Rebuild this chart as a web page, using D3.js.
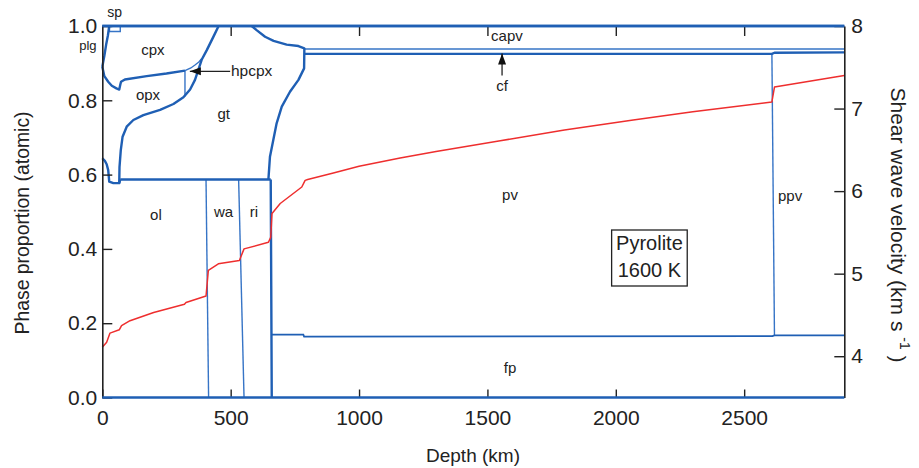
<!DOCTYPE html>
<html>
<head>
<meta charset="utf-8">
<script src="https://cdn.jsdelivr.net/npm/d3@7/dist/d3.min.js"></script>
<style>
  body { margin: 0; background: #fff; }
  svg { display: block; font-family: "Liberation Sans", Arial, sans-serif; }
</style>
</head>
<body>
<svg id="chart" width="919" height="468"></svg>
<script>
// depth (km) vs phase proportion
const spBox = [[28, 1.0], [28, 0.985], [70, 0.985], [70, 1.0]];
const plgCpx = [[27, 1.0], [22, 0.975], [15, 0.95], [8, 0.92], [0, 0.89]];
const cpxOpx = [[0, 0.89], [8, 0.865], [23, 0.85], [37, 0.839], [55, 0.832], [66, 0.829], [70, 0.842], [73, 0.85], [88, 0.856], [173, 0.865], [250, 0.872], [322, 0.88]];
const hpcpxLeft = [[322, 0.88], [322, 0.81]];
const hpcpxTop = [[322, 0.88], [345, 0.887], [361, 0.895], [376, 0.903], [387, 0.912]];
const gtLeft = [[453, 1.0], [432, 0.97], [407, 0.935], [387, 0.909], [374, 0.882], [361, 0.855], [342, 0.829], [316, 0.808], [277, 0.79], [225, 0.774], [160, 0.76], [121, 0.747], [95, 0.729], [79, 0.702], [72, 0.666], [67, 0.62], [66, 0.577]];
const shallowLow = [[0, 0.644], [10, 0.637], [17, 0.628], [23, 0.612], [27, 0.581], [43, 0.577], [66, 0.577], [70, 0.587]];
const olTop = [[70, 0.587], [656, 0.587]];
const gtRight = [[647, 0.587], [653, 0.648], [666, 0.693], [679, 0.738], [699, 0.783], [731, 0.823], [764, 0.855], [786, 0.886], [787, 0.94], [764, 0.946], [718, 0.95], [667, 0.96], [634, 0.971], [601, 0.989], [582, 1.0]];
const capvBase = [[787, 0.938], [2890, 0.938]];
const cfBase = [[787, 0.925], [2608, 0.925], [2618, 0.928], [2890, 0.929]];
const olWa = [[404, 0.587], [414, 0.0]];
const waRi = [[531, 0.587], [552, 0.0]];
const riPv = [[656, 0.587], [658, 0.3], [660, 0.0]];
const fpTop = [[660, 0.169], [783, 0.169], [786, 0.164], [2610, 0.165], [2618, 0.167], [2890, 0.167]];
const pvPpv = [[2608, 0.925], [2618, 0.167]];
const topEdge = [[0, 1.0], [2890, 1.0]];
const bottomEdge = [[0, 0.0], [2890, 0.0]];

// shear wave velocity (km/s)
const vsDepth = [0, 17, 30, 66, 75, 108, 200, 320, 326, 404, 413, 452, 534, 552, 647, 656, 661, 693, 777, 790, 800, 900, 1000, 1160, 1300, 1550, 1800, 2068, 2300, 2608, 2618, 2890];
const vsValue = [4.11, 4.17, 4.28, 4.32, 4.37, 4.43, 4.53, 4.63, 4.65, 4.73, 5.04, 5.12, 5.16, 5.30, 5.38, 5.44, 5.73, 5.85, 6.05, 6.13, 6.14, 6.22, 6.30, 6.40, 6.48, 6.61, 6.74, 6.86, 6.96, 7.08, 7.26, 7.40];

const depthTicks = [0, 500, 1000, 1500, 2000, 2500];
const topTicks = [500, 1000, 1500, 2000, 2500];
const propTicks = [0, 0.2, 0.4, 0.6, 0.8, 1.0];
const vsTicks = [4, 5, 6, 7, 8];

// [label, depth, proportion, size, anchor]
const phaseLabels = [
  ["sp", 48, 1.024, 14, "middle"],
  ["plg", -56, 0.935, 13, "middle"],
  ["cpx", 197, 0.922, 15, "middle"],
  ["opx", 178, 0.801, 15, "middle"],
  ["hpcpx", 501, 0.866, 15.5, "start"],
  ["gt", 473, 0.75, 15, "middle"],
  ["ol", 209, 0.477, 15, "middle"],
  ["wa", 472, 0.487, 15, "middle"],
  ["ri", 591, 0.487, 15, "middle"],
  ["capv", 1576, 0.96, 15, "middle"],
  ["cf", 1557, 0.825, 15, "middle"],
  ["pv", 1588, 0.532, 15, "middle"],
  ["ppv", 2679, 0.529, 15, "middle"],
  ["fp", 1588, 0.066, 15, "middle"]
];

const BLUE = "#1f5fb4";
const BLUE_THIN = "#3674c6";
const RED = "#ee2e2e";

const svg = d3.select("#chart");
const x = d3.scaleLinear().domain([0, 2890]).range([102.3, 844.3]);
const y = d3.scaleLinear().domain([0, 1]).range([397.5, 26]);
const yR = d3.scaleLinear().domain([3.5, 8]).range([397.5, 26]);

const line = d3.line().x(d => x(d[0])).y(d => y(d[1]));

const thick = [plgCpx, cpxOpx, gtLeft, shallowLow, olTop, gtRight, cfBase, riPv, topEdge];
const thin = [spBox, hpcpxLeft, hpcpxTop, capvBase, olWa, waRi, pvPpv];

const g = svg.append("g");

thin.forEach(d => {
  g.append("path").attr("d", line(d))
    .attr("fill", "none").attr("stroke", BLUE_THIN).attr("stroke-width", 1.4);
});
thick.forEach(d => {
  g.append("path").attr("d", line(d))
    .attr("fill", "none").attr("stroke", BLUE).attr("stroke-width", 2.4)
    .attr("stroke-linejoin", "round");
});
g.append("path").attr("d", line(fpTop))
  .attr("fill", "none").attr("stroke", BLUE).attr("stroke-width", 1.8);

// Vs profile
const vsLine = d3.line().x(d => x(d[0])).y(d => yR(d[1]));
g.append("path").attr("d", vsLine(vsDepth.map((d, i) => [d, vsValue[i]])))
  .attr("fill", "none").attr("stroke", RED).attr("stroke-width", 1.5)
  .attr("stroke-linejoin", "round");

// axes
const fontTick = 21;
const axL = svg.append("g").attr("transform", `translate(${x(0)},0)`)
  .call(d3.axisLeft(y).tickValues(propTicks).tickFormat(d3.format(".1f"))
    .tickSizeInner(-10).tickSizeOuter(0).tickPadding(5));
const axR = svg.append("g").attr("transform", `translate(${x(2890)},0)`)
  .call(d3.axisRight(yR).tickValues(vsTicks).tickFormat(d3.format("d"))
    .tickSizeInner(-10).tickSizeOuter(0).tickPadding(7));
const axB = svg.append("g").attr("transform", `translate(0,${y(0)})`)
  .call(d3.axisBottom(x).tickValues(depthTicks).tickFormat(d3.format("d"))
    .tickSizeInner(-8).tickSizeOuter(0).tickPadding(9));
const axT = svg.append("g").attr("transform", `translate(0,${y(1)})`)
  .call(d3.axisTop(x).tickValues(topTicks).tickFormat("")
    .tickSizeInner(-10).tickSizeOuter(0));

[axL, axR, axB, axT].forEach(a => {
  a.selectAll("path.domain").attr("stroke", "#222").attr("stroke-width", 1.6);
  a.selectAll(".tick line").attr("stroke", "#222").attr("stroke-width", 1.4);
  a.selectAll(".tick text").attr("font-size", fontTick).attr("fill", "#222")
    .attr("font-family", "Liberation Sans, Arial, sans-serif");
});
axB.select("path.domain").remove();
axT.select("path.domain").remove();
axB.selectAll(".tick text").attr("dy", "0.9em");

// blue edge lines on top of axes
svg.append("path").attr("d", line(bottomEdge))
  .attr("fill", "none").attr("stroke", BLUE).attr("stroke-width", 2.6);
svg.append("path").attr("d", line(topEdge))
  .attr("fill", "none").attr("stroke", BLUE).attr("stroke-width", 2.4);

// phase labels
phaseLabels.forEach(([t, dx, dy, fs, anc]) => {
  svg.append("text").attr("x", x(dx)).attr("y", y(dy))
    .attr("text-anchor", anc).attr("font-size", fs).attr("fill", "#222").text(t);
});

// arrows
function arrow(x1, y1, x2, y2) {
  svg.append("line").attr("x1", x1).attr("y1", y1).attr("x2", x2).attr("y2", y2)
    .attr("stroke", "#222").attr("stroke-width", 1.3);
  const ang = Math.atan2(y2 - y1, x2 - x1);
  const L = 11, W = 4;
  const bx = x2 - L * Math.cos(ang), by = y2 - L * Math.sin(ang);
  const px = -Math.sin(ang) * W, py = Math.cos(ang) * W;
  svg.append("path")
    .attr("d", `M${x2},${y2}L${bx + px},${by + py}L${bx - px},${by - py}Z`)
    .attr("fill", "#111");
}
arrow(x(498), y(0.878), x(341), y(0.878));
arrow(x(1557), y(0.867), x(1557), y(0.926));

// Pyrolite box
const bx0 = x(2131);
svg.append("rect").attr("x", bx0 - 37.8).attr("y", 230).attr("width", 75.6).attr("height", 56)
  .attr("fill", "#fff").attr("stroke", "#222").attr("stroke-width", 1.3);
svg.append("text").attr("x", bx0).attr("y", y(0.397)).attr("text-anchor", "middle")
  .attr("font-size", 20).attr("fill", "#222").text("Pyrolite");
svg.append("text").attr("x", bx0).attr("y", y(0.324)).attr("text-anchor", "middle")
  .attr("font-size", 20).attr("fill", "#222").text("1600 K");

// axis titles
svg.append("text").attr("x", 473).attr("y", 462).attr("text-anchor", "middle")
  .attr("font-size", 19).attr("fill", "#222").text("Depth (km)");
svg.append("text").attr("transform", "translate(29,223) rotate(-90)")
  .attr("text-anchor", "middle").attr("font-size", 19.4).attr("fill", "#222")
  .text("Phase proportion (atomic)");
const rt = svg.append("text").attr("transform", "translate(891,225) rotate(90)")
  .attr("text-anchor", "middle").attr("font-size", 21).attr("fill", "#222");
rt.append("tspan").text("Shear wave velocity (km s  ");
rt.append("tspan").attr("dy", -9).attr("font-size", 14).text("-1");
rt.append("tspan").attr("dy", 9).text(" )");
</script>
</body>
</html>
